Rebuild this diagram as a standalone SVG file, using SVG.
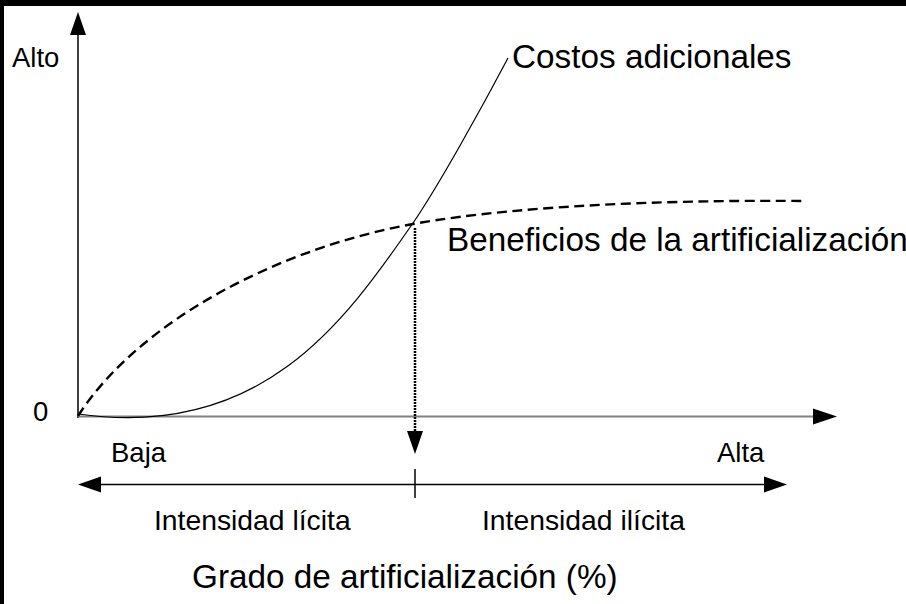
<svg xmlns="http://www.w3.org/2000/svg" width="906" height="604" viewBox="0 0 906 604">
<style>
  text { font-family: "Liberation Sans", Arial, sans-serif; fill: #000; }
  .sm { font-size: 27.5px; }
  .md { font-size: 28.3px; }
  .lg { font-size: 33.3px; }
  .axis { stroke: #000; stroke-width: 1.5; fill: none; }
  .xaxis { stroke: #808080; stroke-width: 2; fill: none; }
  .cost { stroke: #000; stroke-width: 1.2; fill: none; }
  .ben { stroke: #000; stroke-width: 2.4; fill: none; stroke-dasharray: 10 5.5; }
  .drop { stroke: #000; stroke-width: 2.5; fill: none; stroke-dasharray: 2 1; }
  .head { fill: #000; stroke: none; }
</style>
<rect x="0" y="0" width="906" height="604" fill="#fff"/>
<rect x="0" y="0" width="906" height="6" fill="#000"/>
<rect x="0" y="0" width="4" height="604" fill="#000"/>

<g id="connectors">
  <g id="y-axis">
    <line class="axis" x1="78" y1="418" x2="78" y2="34"/>
    <polygon class="head" points="78,12 70,35 86,35"/>
  </g>
  <g id="x-axis">
    <line class="xaxis" x1="78" y1="416.5" x2="815" y2="416.5"/>
    <polygon class="head" points="837,416.5 813,408.5 813,424.5"/>
  </g>
  <g id="intensity-axis">
    <line class="axis" x1="98" y1="484.5" x2="766" y2="484.5"/>
    <polygon class="head" points="78,484.5 101,476.5 101,492.5"/>
    <polygon class="head" points="787,484.5 764,476.5 764,492.5"/>
    <line class="axis" x1="415" y1="469" x2="415" y2="498"/>
  </g>
  <g id="drop-line">
    <line class="drop" x1="415" y1="228" x2="415" y2="433"/>
    <polygon class="head" points="415,454 407,431 423,431"/>
  </g>
</g>

<g id="curve-costos">
  <path class="cost" d="M78,414 C260,440 343,324.5 413,223 C438,186.75 483,105.5 508,58"/>
</g>
<g id="curve-beneficios">
  <path class="ben" d="M78,416 C140,320 280,248 413,224 C530,203 700,200 805,201"/>
</g>

<g id="label-alto"><text class="sm" x="12" y="67">Alto</text></g>
<g id="label-cero"><text class="sm" x="33" y="421">0</text></g>
<g id="label-baja"><text class="sm" x="111" y="462">Baja</text></g>
<g id="label-alta"><text class="sm" x="717" y="462">Alta</text></g>
<g id="label-licita"><text class="md" x="154" y="530">Intensidad lícita</text></g>
<g id="label-ilicita"><text class="md" x="482" y="530">Intensidad ilícita</text></g>
<g id="label-costos"><text class="lg" x="512" y="68">Costos adicionales</text></g>
<g id="label-beneficios"><text class="lg" x="447" y="251">Beneficios de la artificialización</text></g>
<g id="label-grado"><text class="lg" x="192" y="588">Grado de artificialización (%)</text></g>
</svg>
